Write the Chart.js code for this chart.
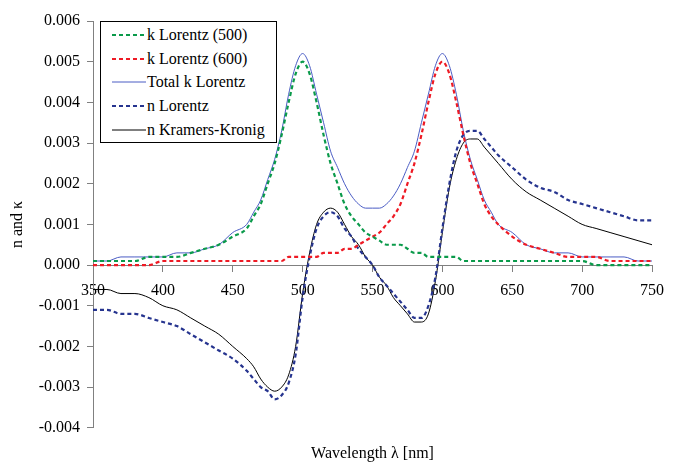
<!DOCTYPE html>
<html>
<head>
<meta charset="UTF-8">
<title>n and kappa, Lorentz vs Kramers-Kronig</title>
<script src="https://cdn.jsdelivr.net/npm/chart.js"></script>
<style>
    body { margin: 0; background: #fff; }
    #wrap { position: relative; width: 674px; height: 464px; }
    #legend {
        position: absolute; left: 100px; top: 21px; width: 175px; height: 120px;
        border: 1px solid #000; background: #fff;
        font: 16px "Liberation Serif", Tinos, "Times New Roman", "DejaVu Serif", serif; color: #000;
    }
    .item { position: absolute; left: 0; height: 20px; line-height: 20px; white-space: nowrap; }
    .item svg { position: absolute; left: 11px; top: 7px; }
    .item span { position: absolute; left: 46px; top: 0; }
</style>
</head>
<body>
<div id="wrap">
    <canvas id="nkChart" width="674" height="464"></canvas>
    <div id="legend"></div>
</div>

<script>
// wavelength grid (nm)
const wavelength = [350, 360, 370, 380, 390, 400, 410, 420, 430, 440, 450, 460,
    465, 470, 475, 480, 485, 490, 495, 500, 505, 510, 515, 520, 525, 530, 535, 540,
    545, 550, 555, 560, 565, 570, 575, 580, 585, 590, 595, 600, 605, 610, 615, 620,
    625, 630, 635, 640, 650, 660, 670, 680, 690, 700, 710, 720, 730, 740, 750];

const kLorentz500 = [0.0001, 0.0001, 0.0001, 0.0001, 0.0002, 0.0002, 0.0002, 0.0003, 0.0004, 0.0005, 0.0007, 0.0009,
    0.0012, 0.0015, 0.0020, 0.0025, 0.0032, 0.0040, 0.0047, 0.0050, 0.0047, 0.0040, 0.0032, 0.0025, 0.0020, 0.0015, 0.0012, 0.0010,
    0.0008, 0.0007, 0.0006, 0.0005, 0.0005, 0.0005, 0.0004, 0.0003, 0.0003, 0.0002, 0.0002, 0.0002, 0.0002, 0.0002, 0.0001, 0.0001,
    0.0001, 0.0001, 0.0001, 0.0001, 0.0001, 0.0001, 0.0001, 0.0001, 0.0001, 0.0001, 0, 0, 0, 0, 0];

const kLorentz600 = [0, 0, 0, 0, 0, 0.0001, 0.0001, 0.0001, 0.0001, 0.0001, 0.0001, 0.0001,
    0.0001, 0.0001, 0.0001, 0.0001, 0.0001, 0.0002, 0.0002, 0.0002, 0.0002, 0.0002, 0.0003, 0.0003, 0.0003, 0.0004, 0.0004, 0.0005,
    0.0006, 0.0007, 0.0008, 0.0010, 0.0012, 0.0015, 0.0020, 0.0025, 0.0032, 0.0040, 0.0047, 0.0050, 0.0047, 0.0040, 0.0032, 0.0025,
    0.0020, 0.0015, 0.0012, 0.0010, 0.0007, 0.0005, 0.0004, 0.0003, 0.0002, 0.0002, 0.0002, 0.0001, 0.0001, 0.0001, 0.0001];

const kTotal = [0.0001, 0.0001, 0.0002, 0.0002, 0.0002, 0.0002, 0.0003, 0.0003, 0.0004, 0.0005, 0.0008, 0.0010,
    0.0013, 0.0016, 0.0021, 0.0026, 0.0033, 0.0042, 0.0049, 0.0052, 0.0049, 0.0042, 0.0035, 0.0028, 0.0024, 0.0020, 0.0017, 0.0015,
    0.0014, 0.0014, 0.0014, 0.0015, 0.0017, 0.0020, 0.0024, 0.0028, 0.0035, 0.0042, 0.0049, 0.0052, 0.0049, 0.0042, 0.0033, 0.0026,
    0.0021, 0.0016, 0.0013, 0.0010, 0.0008, 0.0005, 0.0004, 0.0003, 0.0003, 0.0002, 0.0002, 0.0002, 0.0002, 0.0001, 0.0001];

const nLorentz = [-0.0011, -0.0011, -0.0012, -0.0012, -0.0013, -0.0014, -0.0015, -0.0017, -0.0019, -0.0021, -0.0023, -0.0026,
    -0.0028, -0.0030, -0.0031, -0.0033, -0.0032, -0.0029, -0.0022, -0.0008, 0.0002, 0.0009, 0.0012, 0.0013, 0.0012, 0.0009, 0.0007, 0.0004,
    0.0002, 0.0000, -0.0003, -0.0005, -0.0007, -0.0009, -0.0011, -0.0013, -0.0013, -0.0010, -0.0003, 0.0009, 0.0020, 0.0028, 0.0032, 0.0033,
    0.0033, 0.0031, 0.0029, 0.0027, 0.0024, 0.0021, 0.0019, 0.0018, 0.0016, 0.0015, 0.0014, 0.0013, 0.0012, 0.0011, 0.0011];

const nKramersKronig = [-0.0006, -0.0006, -0.0007, -0.0007, -0.0008, -0.0010, -0.0011, -0.0013, -0.0015, -0.0017, -0.0020, -0.0023,
    -0.0025, -0.0028, -0.0030, -0.0031, -0.0030, -0.0027, -0.0020, -0.0007, 0.0003, 0.0010, 0.0013, 0.0014, 0.0013, 0.0010, 0.0007, 0.0005,
    0.0002, 0.0000, -0.0003, -0.0005, -0.0008, -0.0010, -0.0012, -0.0014, -0.0014, -0.0012, -0.0004, 0.0008, 0.0019, 0.0026, 0.0030, 0.0031,
    0.0031, 0.0029, 0.0027, 0.0025, 0.0021, 0.0018, 0.0016, 0.0014, 0.0012, 0.0010, 0.0009, 0.0008, 0.0007, 0.0006, 0.0005];

const yTicksMin = -0.004;
const yTicksMax = 0.006;

function pts(values) {
    return values.map((v, i) => ({ x: wavelength[i], y: v }));
}

Chart.defaults.font.family = '"Liberation Serif", Tinos, "Times New Roman", "DejaVu Serif", serif';
Chart.defaults.font.size = 16;
Chart.defaults.color = '#000';

const dash = [4, 3];
const datasets = [
    { label: 'k Lorentz (500)', data: pts(kLorentz500), borderColor: '#0a9a4a', borderWidth: 2.2, borderDash: dash },
    { label: 'k Lorentz (600)', data: pts(kLorentz600), borderColor: '#ee1a24', borderWidth: 2.2, borderDash: dash },
    { label: 'Total k Lorentz', data: pts(kTotal), borderColor: '#4a5cc4', borderWidth: 1 },
    { label: 'n Lorentz', data: pts(nLorentz), borderColor: '#26348f', borderWidth: 2.2, borderDash: dash },
    { label: 'n Kramers-Kronig', data: pts(nKramersKronig), borderColor: '#000000', borderWidth: 1 }
];
datasets.forEach(d => {
    d.pointRadius = 0;
    d.fill = false;
    d.cubicInterpolationMode = 'monotone';
});

// legend drawn as html inside the plot
const legend = document.getElementById('legend');
datasets.forEach((d, i) => {
    const row = document.createElement('div');
    row.className = 'item';
    row.style.top = (3 + i * 23.7) + 'px';
    const da = d.borderDash ? d.borderDash.join(' ') : 'none';
    row.innerHTML = '<svg width="34" height="6"><line x1="0" y1="3" x2="34" y2="3" stroke="' + d.borderColor +
        '" stroke-width="' + d.borderWidth + '" stroke-dasharray="' + da + '"/></svg><span>' + d.label + '</span>';
    legend.appendChild(row);
});

const ctx = document.getElementById('nkChart').getContext('2d');
const nkChart = new Chart(ctx, {
    type: 'line',
    data: { datasets: datasets },
    options: {
        responsive: false,
        animation: false,
        layout: { padding: { top: 21, right: 12, left: 0, bottom: 0 } },
        plugins: {
            legend: { display: false },
            tooltip: { enabled: false },
            title: {
                display: true,
                text: 'Wavelength λ [nm]',
                position: 'bottom',
                fullSize: false,
                font: { size: 16, weight: 'normal' },
                color: '#000',
                padding: { top: 16, bottom: 1 }
            }
        },
        scales: {
            x: {
                type: 'linear',
                min: 350,
                max: 750,
                position: { y: 0 },
                ticks: { stepSize: 50, padding: 10, color: '#000', maxRotation: 0 },
                grid: { drawOnChartArea: false, tickLength: 6, color: '#808080' },
                border: { color: '#808080' }
            },
            y: {
                min: yTicksMin,
                max: yTicksMax,
                ticks: { stepSize: 0.001, padding: 7, color: '#000', callback: v => v.toFixed(3) },
                grid: { drawOnChartArea: false, tickLength: 6, color: '#808080' },
                border: { color: '#808080' },
                title: { display: true, text: 'n and κ', color: '#000', padding: { top: 8, bottom: 0 } },
                afterFit: s => { s.width = 93; }
            }
        }
    }
});
</script>
</body>
</html>
